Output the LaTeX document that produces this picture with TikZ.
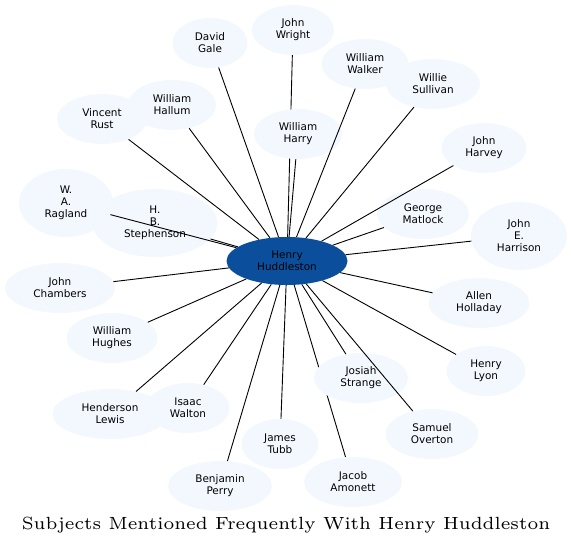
\documentclass[tikz,border=0pt]{standalone}
\usepackage{fontspec}
\usepackage{tikz}
\usetikzlibrary{shapes.geometric,backgrounds}
\newfontfamily\labelfont{DejaVu Sans}
\newfontfamily\titlefont{lmroman6-regular.otf}
\definecolor{personfill}{HTML}{F3F8FE}
\definecolor{hubfill}{HTML}{0B4F9C}

\begin{document}
\begin{tikzpicture}[
  x=1bp, y=-1bp,
  person/.style={ellipse, fill=personfill, inner sep=0pt, minimum height=50bp, align=center, font=\labelfont\fontsize{10.5}{12}\selectfont},
  tallperson/.style={person, minimum height=68bp},
  hub/.style={ellipse, fill=hubfill, inner sep=0pt, minimum width=121bp, minimum height=48bp, align=center, font=\labelfont\fontsize{10.5}{12}\selectfont},
  link/.style={line width=0.9bp, black}
]
  \useasboundingbox (0,0) rectangle (572,547);

  \node[hub] (henry) at (287,261) {Henry\\Huddleston};

  % top half
  \node[person, minimum width=75bp] (gale) at (210,43) {David\\Gale};
  \node[person, minimum width=82bp] (wright) at (293,30) {John\\Wright};
  \node[person, minimum width=87bp] (walker) at (365,64) {William\\Walker};
  \node[person, minimum width=94bp] (sullivan) at (433,84) {Willie\\Sullivan};
  \node[person, minimum width=90bp] (rust) at (102,119) {Vincent\\Rust};
  \node[person, minimum width=88bp] (hallum) at (172,105) {William\\Hallum};
  \node[person, minimum width=88bp] (harry) at (298,134) {William\\Harry};
  \node[person, minimum width=85bp] (harvey) at (484,148) {John\\Harvey};
  \node[tallperson, minimum width=94bp] (ragland) at (66,203) {W.\\A.\\Ragland};
  \node[tallperson, minimum width=125bp] (stephenson) at (155,223) {H.\\B.\\Stephenson};
  \node[person, minimum width=92bp] (matlock) at (423,214) {George\\Matlock};
  \node[tallperson, minimum width=96bp] (harrison) at (519,236) {John\\E.\\Harrison};

  % bottom half
  \node[person, minimum width=110bp] (chambers) at (60,288) {John\\Chambers};
  \node[person, minimum width=101bp] (holladay) at (479,303) {Allen\\Holladay};
  \node[person, minimum width=91bp] (hughes) at (112,338) {William\\Hughes};
  \node[person, minimum width=79bp] (lyon) at (486,371) {Henry\\Lyon};
  \node[person, minimum width=94bp] (strange) at (361,378) {Josiah\\Strange};
  \node[person, minimum width=115bp] (lewis) at (110,414) {Henderson\\Lewis};
  \node[person, minimum width=83bp] (walton) at (188,408) {Isaac\\Walton};
  \node[person, minimum width=93bp] (overton) at (432,434) {Samuel\\Overton};
  \node[person, minimum width=77bp] (tubb) at (280,444) {James\\Tubb};
  \node[person, minimum width=98bp] (amonett) at (353,482) {Jacob\\Amonett};
  \node[person, minimum width=104bp] (perry) at (220,486) {Benjamin\\Perry};

  \node (title) at (286,525) {\titlefont\fontsize{17.7}{21}\selectfont Subjects Mentioned Frequently With Henry Huddleston};

  % these two run under other ellipses
  \begin{pgfonlayer}{background}
    \draw[link] (henry) -- (wright);
    \draw[link] (henry) -- (amonett);
  \end{pgfonlayer}

  \foreach \who in {gale,walker,sullivan,rust,hallum,harry,harvey,ragland,stephenson,matlock,harrison,
                    chambers,holladay,hughes,lyon,strange,lewis,walton,overton,tubb,perry}
    \draw[link] (henry) -- (\who);
\end{tikzpicture}
\end{document}
